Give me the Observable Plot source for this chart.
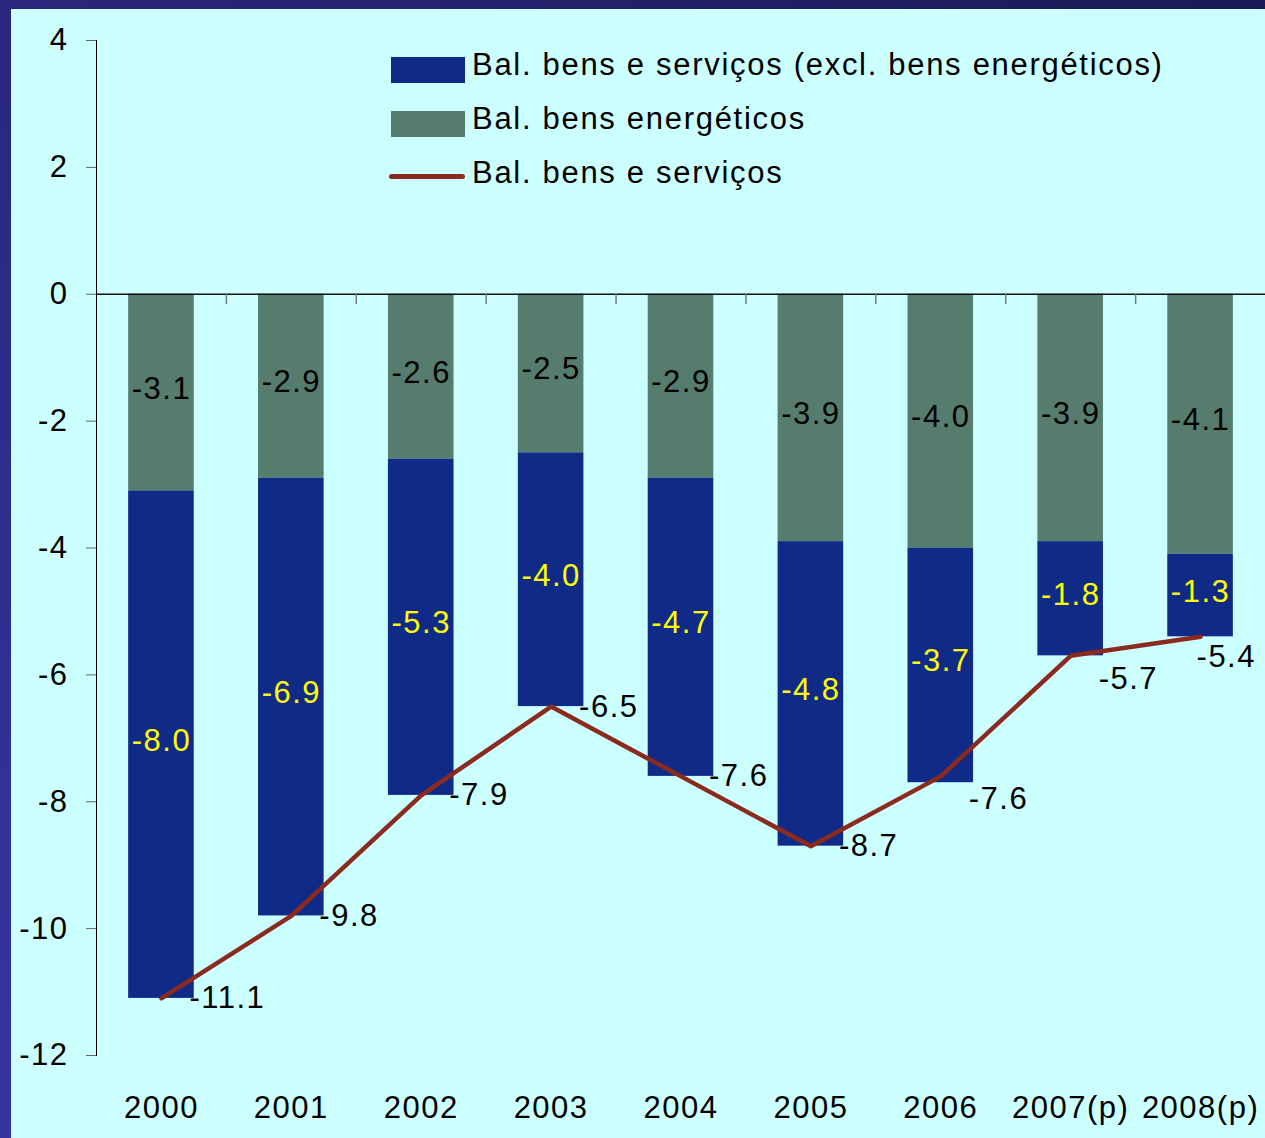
<!DOCTYPE html>
<html><head><meta charset="utf-8">
<script src="https://cdn.jsdelivr.net/npm/d3@7"></script>
<script src="https://cdn.jsdelivr.net/npm/@observablehq/plot@0.6"></script>
<style>
html,body{margin:0;padding:0;}
body{width:1265px;height:1138px;overflow:hidden;position:relative;background:linear-gradient(to bottom left,#1c1a55,#3535a2);font-family:"Liberation Sans",Arial,sans-serif;}
#panel{position:absolute;left:11px;top:9px;width:1254px;height:1129px;background:#ccffff;overflow:hidden;}
#chart{position:absolute;left:0;top:0;}
#chart svg text{letter-spacing:1.5px;}
.sw{position:absolute;left:380px;width:74px;height:26px;}
.ln{position:absolute;left:378px;width:76px;height:5px;border-radius:3px;}
.lt{position:absolute;left:461px;font-size:31px;line-height:31px;letter-spacing:1.7px;color:#000;white-space:nowrap;}
</style></head>
<body>
<div id="panel"><div id="chart"></div><div id="legend"></div></div>
<script>
const years = ["2000","2001","2002","2003","2004","2005","2006","2007(p)","2008(p)"];
const energy = [-3.1,-2.9,-2.6,-2.5,-2.9,-3.9,-4.0,-3.9,-4.1];
const nonEnergy = [-8.0,-6.9,-5.3,-4.0,-4.7,-4.8,-3.7,-1.8,-1.3];
const total = [-11.1,-9.8,-7.9,-6.5,-7.6,-8.7,-7.6,-5.7,-5.4];
const seriesNames = ["Bal. bens e serviços (excl. bens energéticos)","Bal. bens energéticos","Bal. bens e serviços"];
const yTicks = [4,2,0,-2,-4,-6,-8,-10,-12];

const BLUE = "#0f2a87", GRAY = "#567c6e", RED = "#8b2a1f", YELLOW = "#ffff00";

const rows = years.flatMap((y, i) => [
  {year: y, series: "energy", value: energy[i]},
  {year: y, series: "excl", value: nonEnergy[i]}
]);
const totals = years.map((y, i) => ({year: y, total: total[i], i}));
const halfStep = 1169 / 9 / 2;

const chart = Plot.plot({
  width: 1254, height: 1129,
  marginLeft: 85, marginRight: 0, marginTop: 31, marginBottom: 83,
  style: {background: "transparent", fontFamily: "'Liberation Sans', Arial, sans-serif", fontSize: "31px", color: "black", overflow: "visible"},
  x: {type: "band", domain: years, paddingInner: 0.495, paddingOuter: 0.2475, align: 0.5, round: false},
  y: {domain: [-12, 4]},
  marks: [
    Plot.barY(rows, {x: "year", y: "value", z: "series", fill: d => d.series === "energy" ? GRAY : BLUE}),
    Plot.ruleY([0], {stroke: "#111", strokeWidth: 1.5}),
    Plot.ruleX(years.slice(1), {x: d => d, y1: 0, y2: -0.16, dx: -halfStep, stroke: "#777", strokeWidth: 1.5}),
    Plot.text(rows, Plot.stackY({x: "year", y: "value", z: "series", text: d => d.value.toFixed(1),
      fill: d => d.series === "energy" ? "black" : YELLOW, dy: -4, fontSize: 31})),
    Plot.line(totals, {x: "year", y: "total", stroke: RED, strokeWidth: 4.5, strokeLinecap: "round"}),
    Plot.text(totals.filter(d => d.i < 6), {x: "year", y: "total", text: d => d.total.toFixed(1), textAnchor: "start", dx: 28, fontSize: 31, fill: "black"}),
    Plot.text(totals.filter(d => d.i >= 6 && d.i < 8), {x: "year", y: "total", text: d => d.total.toFixed(1), textAnchor: "start", dx: 28, dy: 23, fontSize: 31, fill: "black"}),
    Plot.text(totals.filter(d => d.i === 8), {x: "year", y: "total", text: d => d.total.toFixed(1), textAnchor: "start", dx: -4, dy: 20, fontSize: 31, fill: "black"}),
    Plot.axisY({ticks: yTicks, tickSize: 10, tickPadding: 18, tickFormat: d => String(d), stroke: "#666", fill: "black", fontSize: 31, label: null}),
    Plot.axisX({tickSize: 0, tickPadding: 40, label: null, fontSize: 31, fill: "black"}),
    Plot.frame({anchor: "left", stroke: "black"})
  ]
});
document.getElementById("chart").appendChild(chart);

const legend = document.getElementById("legend");
const swatches = [
  `<div class="sw" style="top:48px;background:${BLUE}"></div>`,
  `<div class="sw" style="top:102px;background:${GRAY}"></div>`,
  `<div class="ln" style="top:165px;background:${RED}"></div>`
];
legend.innerHTML = swatches.join("") + seriesNames.map((n, i) =>
  `<div class="lt" style="top:${40 + i * 54}px">${n}</div>`).join("");
</script>
</body></html>
